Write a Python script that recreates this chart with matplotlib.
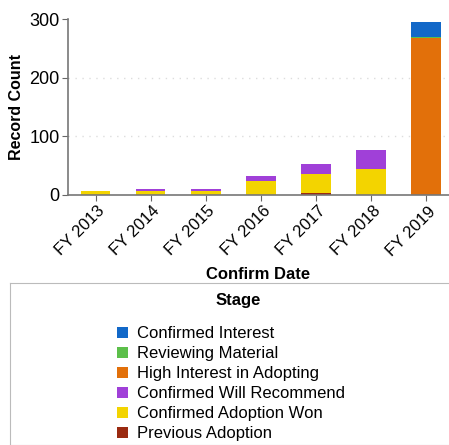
import matplotlib
matplotlib.use("Agg")
import matplotlib.pyplot as plt
import matplotlib.transforms as mtransforms
import numpy as np
from matplotlib.patches import Patch

plt.rcParams.update({"font.family": ["Liberation Sans", "DejaVu Sans"]})

years = ["FY 2013", "FY 2014", "FY 2015", "FY 2016", "FY 2017", "FY 2018", "FY 2019"]
# stacked bottom -> top
previous_adoption = [0, 0, 0, 0, 4, 0, 0]
adoption_won = [6, 6, 6, 24, 32, 44, 0]
will_recommend = [0, 4, 4, 9, 17, 32, 0]
high_interest = [0, 0, 0, 0, 0, 0, 268]
reviewing = [0, 0, 0, 0, 0, 0, 2]
confirmed_interest = [0, 0, 0, 0, 0, 0, 25]

stages = ["Confirmed Interest", "Reviewing Material", "High Interest in Adopting",
          "Confirmed Will Recommend", "Confirmed Adoption Won", "Previous Adoption"]
colors = ["#1268c8", "#5cbf4a", "#e2700a", "#a040d8", "#f3d400", "#9a2a10"]
series = [confirmed_interest, reviewing, high_interest,
          will_recommend, adoption_won, previous_adoption]

W, H = 449, 445
fig = plt.figure(figsize=(W / 100, H / 100), dpi=100)
ax = fig.add_axes([68 / W, 1 - 195 / H, (W - 68) / W, 176 / H])

x = np.arange(len(years))
bottom = np.zeros(len(years))
for vals, col in zip(series[::-1], colors[::-1]):
    ax.bar(x, vals, 0.54, bottom=bottom, color=col, edgecolor="none")
    bottom += np.array(vals)

ax.set_xlim(-0.5, 6.42)
ax.set_ylim(0, 300)
ax.set_yticks([0, 100, 200, 300])
ax.tick_params(axis="y", labelsize=13, length=4, color="#666666", pad=2)
ax.tick_params(axis="x", labelsize=12, length=4, color="#666666", pad=6)
ax.set_xticks(x)
ax.set_xticklabels(years, rotation=45, ha="right", va="center", rotation_mode="anchor")
shift = mtransforms.ScaledTranslation(7 / 100, 0, fig.dpi_scale_trans)
for lab in ax.get_xticklabels():
    lab.set_transform(lab.get_transform() + shift)
for s in ["top", "right"]:
    ax.spines[s].set_visible(False)
for s in ["left", "bottom"]:
    ax.spines[s].set_color("#777777")
    ax.spines[s].set_linewidth(1.2)
for yv in [100, 200]:
    ax.axhline(yv, color="#dddddd", lw=1, ls=(0, (1, 4)), zorder=0)
ax.set_ylabel("Record Count", fontsize=11.5, fontweight="bold", labelpad=4)
ax.set_xlabel("Confirm Date", fontsize=12, fontweight="bold")
ax.xaxis.set_label_coords(0.5, (195 - 275) / 176)
ax.xaxis.label.set_va("center")

# legend box
box = fig.add_axes([10 / W, 0, 1, 1 - 283 / H])
box.set_xticks([])
box.set_yticks([])
for s in box.spines.values():
    s.set_color("#bbbbbb")
box.set_xlim(0, 1)
box.set_ylim(0, 1)
fig.text(238 / W, 1 - 300 / H, "Stage", fontsize=12, fontweight="bold",
         ha="center", va="center")
handles = [Patch(facecolor=c, edgecolor="none", label=l) for c, l in zip(colors, stages)]
leg = fig.legend(handles=handles, loc="upper left",
                 bbox_to_anchor=(117 / W, 1 - 326 / H), frameon=False, fontsize=12,
                 handlelength=0.65, handleheight=0.65, handletextpad=0.55,
                 labelspacing=0.3, borderpad=0.0, borderaxespad=0.0)

fig.savefig("out.png", dpi=100)
